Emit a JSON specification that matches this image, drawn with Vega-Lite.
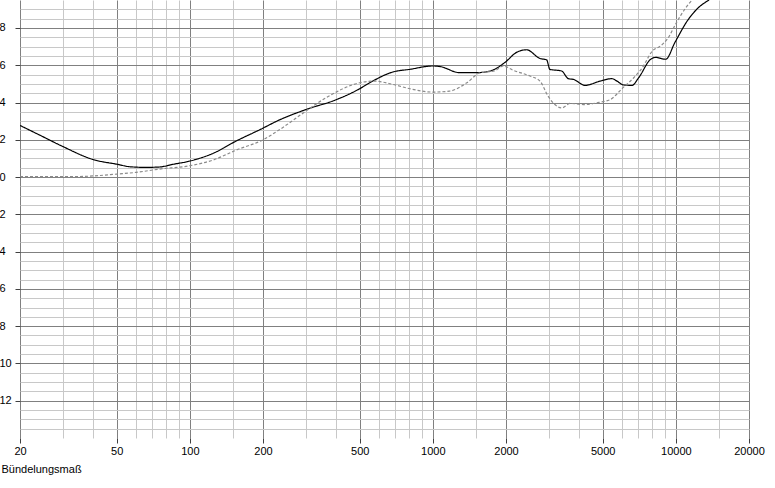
{
  "$schema": "https://vega.github.io/schema/vega-lite/v6.json",
  "width": 729,
  "height": 438,
  "autosize": {"type": "none"},
  "padding": {"left": 20, "top": 0, "right": 26, "bottom": 50},
  "background": "white",
  "view": {"stroke": null},
  "config": {"font": "Liberation Sans"},
  "data": {
    "values": [
      {"s": "A", "f": 20, "v": 2.77},
      {"s": "A", "f": 24.2, "v": 2.24},
      {"s": "A", "f": 30, "v": 1.64},
      {"s": "A", "f": 40, "v": 0.94},
      {"s": "A", "f": 50, "v": 0.69},
      {"s": "A", "f": 57, "v": 0.55},
      {"s": "A", "f": 66, "v": 0.52},
      {"s": "A", "f": 75, "v": 0.54},
      {"s": "A", "f": 85, "v": 0.68},
      {"s": "A", "f": 100, "v": 0.86},
      {"s": "A", "f": 125, "v": 1.28},
      {"s": "A", "f": 156, "v": 1.95},
      {"s": "A", "f": 194, "v": 2.54},
      {"s": "A", "f": 235, "v": 3.08},
      {"s": "A", "f": 300, "v": 3.62},
      {"s": "A", "f": 402, "v": 4.16},
      {"s": "A", "f": 500, "v": 4.74},
      {"s": "A", "f": 550, "v": 5.06},
      {"s": "A", "f": 686, "v": 5.64},
      {"s": "A", "f": 804, "v": 5.78},
      {"s": "A", "f": 1000, "v": 5.96},
      {"s": "A", "f": 1070, "v": 5.93},
      {"s": "A", "f": 1290, "v": 5.6},
      {"s": "A", "f": 1510, "v": 5.6},
      {"s": "A", "f": 1720, "v": 5.69},
      {"s": "A", "f": 1980, "v": 6.15},
      {"s": "A", "f": 2210, "v": 6.69},
      {"s": "A", "f": 2430, "v": 6.83},
      {"s": "A", "f": 2760, "v": 6.36},
      {"s": "A", "f": 2940, "v": 6.29},
      {"s": "A", "f": 3030, "v": 5.78},
      {"s": "A", "f": 3390, "v": 5.69},
      {"s": "A", "f": 3610, "v": 5.28},
      {"s": "A", "f": 3790, "v": 5.24},
      {"s": "A", "f": 4230, "v": 4.92},
      {"s": "A", "f": 4880, "v": 5.15},
      {"s": "A", "f": 5450, "v": 5.28},
      {"s": "A", "f": 5720, "v": 5.15},
      {"s": "A", "f": 6090, "v": 4.94},
      {"s": "A", "f": 6600, "v": 4.92},
      {"s": "A", "f": 7030, "v": 5.33},
      {"s": "A", "f": 7880, "v": 6.32},
      {"s": "A", "f": 8260, "v": 6.42},
      {"s": "A", "f": 9080, "v": 6.32},
      {"s": "A", "f": 9920, "v": 7.23},
      {"s": "A", "f": 11160, "v": 8.39},
      {"s": "A", "f": 12250, "v": 9.03},
      {"s": "A", "f": 13700, "v": 9.5},
      {"s": "B", "f": 20, "v": 0.02},
      {"s": "B", "f": 33, "v": 0.02},
      {"s": "B", "f": 40, "v": 0.06},
      {"s": "B", "f": 50, "v": 0.16},
      {"s": "B", "f": 60, "v": 0.25},
      {"s": "B", "f": 75, "v": 0.43},
      {"s": "B", "f": 100, "v": 0.61},
      {"s": "B", "f": 125, "v": 0.92},
      {"s": "B", "f": 156, "v": 1.46},
      {"s": "B", "f": 200, "v": 2.0},
      {"s": "B", "f": 235, "v": 2.56},
      {"s": "B", "f": 293, "v": 3.44},
      {"s": "B", "f": 363, "v": 4.25},
      {"s": "B", "f": 500, "v": 5.06},
      {"s": "B", "f": 570, "v": 5.15},
      {"s": "B", "f": 686, "v": 4.97},
      {"s": "B", "f": 804, "v": 4.74},
      {"s": "B", "f": 1000, "v": 4.56},
      {"s": "B", "f": 1170, "v": 4.61},
      {"s": "B", "f": 1380, "v": 5.06},
      {"s": "B", "f": 1565, "v": 5.6},
      {"s": "B", "f": 1790, "v": 5.69},
      {"s": "B", "f": 1950, "v": 5.96},
      {"s": "B", "f": 2140, "v": 5.73},
      {"s": "B", "f": 2510, "v": 5.42},
      {"s": "B", "f": 2760, "v": 5.15},
      {"s": "B", "f": 2980, "v": 4.34},
      {"s": "B", "f": 3180, "v": 3.89},
      {"s": "B", "f": 3390, "v": 3.71},
      {"s": "B", "f": 3670, "v": 3.95},
      {"s": "B", "f": 4170, "v": 3.89},
      {"s": "B", "f": 4880, "v": 4.02},
      {"s": "B", "f": 5380, "v": 4.16},
      {"s": "B", "f": 6000, "v": 4.74},
      {"s": "B", "f": 6710, "v": 5.33},
      {"s": "B", "f": 7280, "v": 5.87},
      {"s": "B", "f": 8010, "v": 6.77},
      {"s": "B", "f": 8660, "v": 7.04},
      {"s": "B", "f": 9230, "v": 7.41},
      {"s": "B", "f": 10080, "v": 8.31},
      {"s": "B", "f": 10910, "v": 9.03},
      {"s": "B", "f": 11800, "v": 9.57}
    ]
  },
  "mark": {"type": "line", "clip": true, "interpolate": "monotone", "strokeWidth": 1.2},
  "encoding": {
    "x": {
      "field": "f",
      "type": "quantitative",
      "scale": {"type": "log", "domain": [20, 20000], "nice": false},
      "axis": {
        "values": [20, 30, 40, 50, 60, 70, 80, 90, 100, 150, 200, 300, 400, 500, 600, 700, 800, 900, 1000, 1500, 2000, 3000, 4000, 5000, 6000, 7000, 8000, 9000, 10000, 15000, 20000],
        "title": "Bündelungsmaß",
        "titleX": -19,
        "titleY": 34,
        "titleAlign": "left",
        "titleAnchor": "start",
        "titleBaseline": "alphabetic",
        "titleFontWeight": "normal",
        "titleFontSize": 11,
        "titleColor": "black",
        "labelExpr": "indexof([20,50,100,200,500,1000,2000,5000,10000,20000], datum.value) >= 0 ? datum.value + '' : ''",
        "labelFontSize": 11,
        "labelColor": "black",
        "labelPadding": 2,
        "labelOverlap": false,
        "labelFlush": false,
        "labelBound": false,
        "domain": false,
        "ticks": true,
        "tickSize": 5,
        "tickColor": "#404040",
        "tickOpacity": {"condition": {"test": "indexof([20,50,100,200,500,1000,2000,5000,10000,20000], datum.value) >= 0", "value": 1}, "value": 0},
        "grid": true,
        "gridColor": {"condition": {"test": "indexof([20,50,100,200,500,1000,2000,5000,10000,20000], datum.value) >= 0", "value": "#808080"}, "value": "#c8c8c8"},
        "gridOpacity": 1,
        "gridWidth": 1
      }
    },
    "y": {
      "field": "v",
      "type": "quantitative",
      "scale": {"domain": [-14, 9.5], "nice": false, "zero": false},
      "axis": {
        "values": [-13.5, -13, -12.5, -12, -11.5, -11, -10.5, -10, -9.5, -9, -8.5, -8, -7.5, -7, -6.5, -6, -5.5, -5, -4.5, -4, -3.5, -3, -2.5, -2, -1.5, -1, -0.5, 0, 0.5, 1, 1.5, 2, 2.5, 3, 3.5, 4, 4.5, 5, 5.5, 6, 6.5, 7, 7.5, 8, 8.5, 9],
        "title": null,
        "labelExpr": "datum.value % 2 === 0 ? '' + abs(datum.value) : ''",
        "labelAlign": "left",
        "labelPadding": 16,
        "labelFontSize": 11,
        "labelColor": "black",
        "labelOverlap": false,
        "labelBound": false,
        "labelFlush": false,
        "domain": false,
        "tickSize": 5,
        "tickColor": "#404040",
        "tickOpacity": {"condition": {"test": "datum.value % 2 === 0", "value": 1}, "value": 0},
        "grid": true,
        "gridColor": {"condition": {"test": "datum.value % 2 === 0", "value": "#808080"}, "value": "#c8c8c8"},
        "gridOpacity": 1,
        "gridWidth": 1
      }
    },
    "color": {
      "field": "s",
      "type": "nominal",
      "scale": {"domain": ["A", "B"], "range": ["#000000", "#8a8a8a"]},
      "legend": null
    },
    "strokeDash": {
      "field": "s",
      "type": "nominal",
      "scale": {"domain": ["A", "B"], "range": [[1, 0], [3, 2]]},
      "legend": null
    }
  }
}
